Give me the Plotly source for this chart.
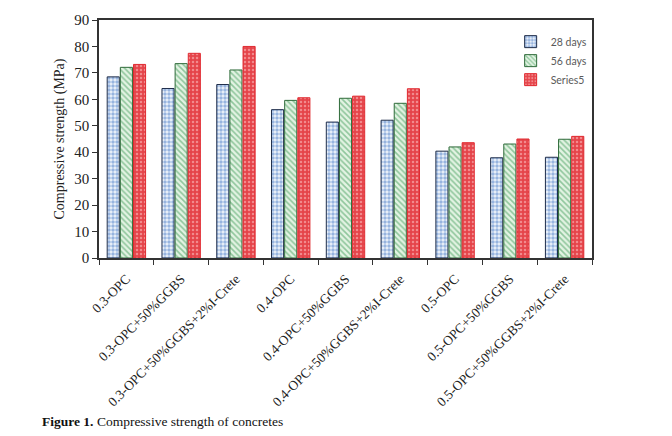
import plotly.graph_objects as go

categories = ["0.3-OPC", "0.3-OPC+50%GGBS", "0.3-OPC+50%GGBS+2%I-Crete",
              "0.4-OPC", "0.4-OPC+50%GGBS", "0.4-OPC+50%GGBS+2%I-Crete",
              "0.5-OPC", "0.5-OPC+50%GGBS", "0.5-OPC+50%GGBS+2%I-Crete"]
days28 = [68.5, 64.1, 65.6, 56.1, 51.4, 52.1, 40.4, 37.9, 38.1]
days56 = [72.1, 73.5, 71.1, 59.6, 60.4, 58.5, 42.0, 43.1, 44.9]
series5 = [73.2, 77.4, 80.0, 60.6, 61.2, 64.0, 43.6, 45.0, 46.0]
y_ticks = [0, 10, 20, 30, 40, 50, 60, 70, 80, 90]

W, H = 672, 436
L, R, T, B = 99, 80, 18, 178
pw, ph = W - L - R, H - T - B

fig = go.Figure()
fig.add_trace(go.Bar(
    x=categories, y=days28, name="28 days",
    marker=dict(color="#4a7fc1", line=dict(color="#1f2d4a", width=1),
                pattern=dict(shape=".", fgcolor="#3f76c4", bgcolor="#eef3fa", size=4, solidity=0.6)),
))
fig.add_trace(go.Bar(
    x=categories, y=days56, name="56 days",
    marker=dict(color="#d4ecd4", line=dict(color="#2f6b3a", width=1),
                pattern=dict(shape="\\", fgcolor="#3c9a55", bgcolor="#e3f3e3", size=4, solidity=0.4)),
))
fig.add_trace(go.Bar(
    x=categories, y=series5, name="Series5",
    marker=dict(color="#e8474c", line=dict(color="#e02a30", width=1),
                pattern=dict(shape=".", fgcolor="#ffd0d0", bgcolor="#e5444a", size=4, solidity=0.3)),
))

serif = "Liberation Serif, Times New Roman, serif"
fig.update_layout(
    width=W, height=H,
    margin=dict(l=L, r=R, t=T, b=B),
    paper_bgcolor="white", plot_bgcolor="white",
    barmode="group", bargap=0.28, bargroupgap=0.08,
    font=dict(family=serif, size=13, color="#222"),
    showlegend=True,
    legend=dict(x=0.835, y=0.97, xanchor="left", yanchor="top",
                font=dict(family="Lato, Open Sans, sans-serif", size=10.5, color="#5a5a5a"),
                bgcolor="rgba(0,0,0,0)", itemwidth=30, tracegroupgap=0),
    xaxis=dict(showline=True, linecolor="#333", linewidth=1.5, mirror=True,
               ticks="outside", tickson="boundaries", ticklen=5, tickcolor="#333",
               ticklabelstandoff=6,
               tickangle=-45, tickfont=dict(family=serif, size=13.5, color="#222")),
    yaxis=dict(range=[0, 90], tickvals=y_ticks, showline=True, linecolor="#333", linewidth=1.5,
               mirror=True, ticks="outside", ticklen=5, tickcolor="#333", showgrid=False,
               zeroline=False, tickfont=dict(family=serif, size=15, color="#222"),
               title=dict(text="Compressive strength (MPa)", font=dict(family=serif, size=14, color="#222"),
                          standoff=6)),
)

fig.add_annotation(
    xref="paper", yref="paper", x=(40 - L) / pw, y=(H - B - 423) / ph,
    xanchor="left", yanchor="middle", showarrow=False,
    text="<b>Figure 1.</b> Compressive strength of concretes",
    font=dict(family=serif, size=13.5, color="#111"),
)

fig.write_html("out.html")
